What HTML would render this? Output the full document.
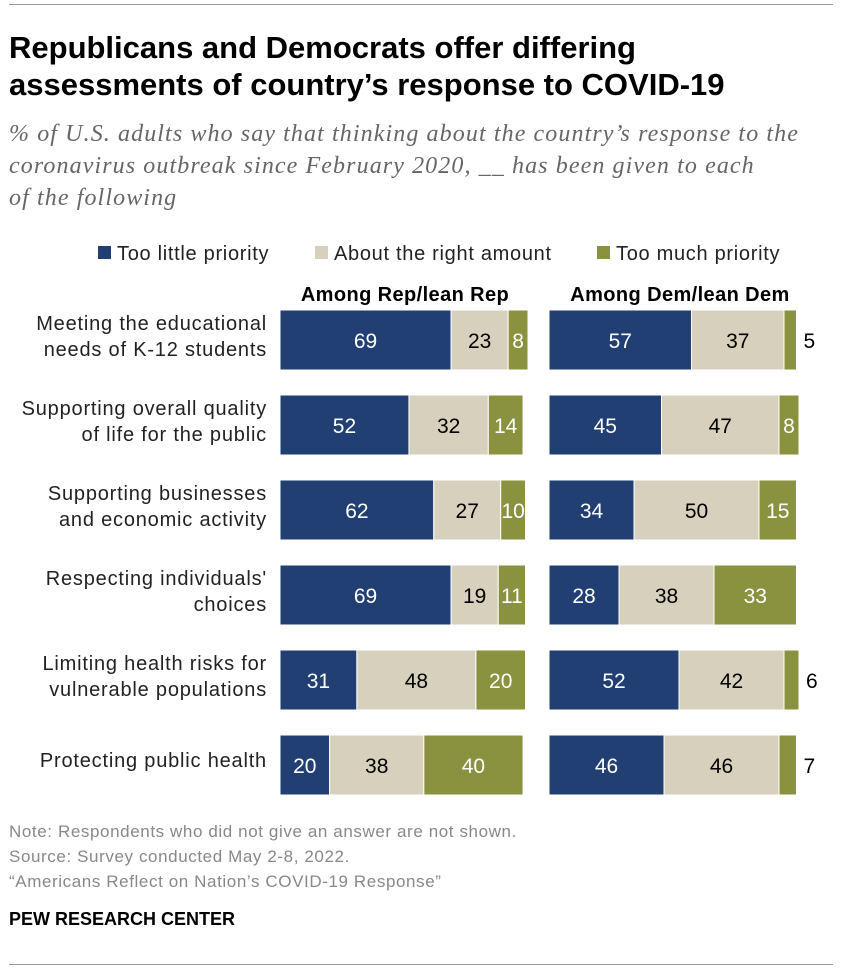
<!DOCTYPE html>
<html><head><meta charset="utf-8"><style>
body{margin:0;background:#fff;font-family:"Liberation Sans",sans-serif;}
#wrap{position:relative;width:842px;height:972px;overflow:hidden;}
.abs{position:absolute;}
</style></head><body>
<div id="wrap">
<div class="abs" style="left:9px;top:4px;width:824px;height:1px;background:#999"></div>
<div class="abs" style="left:9px;top:29px;font-size:31px;font-weight:bold;line-height:37px;color:#000">Republicans and Democrats offer differing<br>assessments of country’s response to COVID-19</div>
<div class="abs" style="left:9px;top:118px;font-family:'Liberation Serif',serif;font-style:italic;font-size:24px;letter-spacing:1.1px;line-height:32px;color:#666">% of U.S. adults who say that thinking about the country’s response to the<br>coronavirus outbreak since February 2020, __ has been given to each<br>of the following</div>
<svg class="abs" style="left:0;top:0" width="842" height="972" id="chart"></svg>
<div class="abs" style="left:9px;top:819px;font-size:17px;letter-spacing:0.6px;line-height:25px;color:#888">Note: Respondents who did not give an answer are not shown.<br>Source: Survey conducted May 2-8, 2022.<br>“Americans Reflect on Nation’s COVID-19 Response”</div>
<div class="abs" style="left:9px;top:909px;font-size:18px;font-weight:bold;color:#000">PEW RESEARCH CENTER</div>
<div class="abs" style="left:9px;top:964px;width:824px;height:1px;background:#999"></div>
</div>
<script>
const categories=[["Meeting the educational","needs of K-12 students"],["Supporting overall quality","of life for the public"],["Supporting businesses","and economic activity"],["Respecting individuals'","choices"],["Limiting health risks for","vulnerable populations"],["Protecting public health"]];
const repLittle=[69,52,62,69,31,20];
const repRight=[23,32,27,19,48,38];
const repMuch=[8,14,10,11,20,40];
const demLittle=[57,45,34,28,52,46];
const demRight=[37,47,50,38,42,46];
const demMuch=[5,8,15,33,6,7];
const seriesNames=["Too little priority","About the right amount","Too much priority"];
const colors=["#213f72","#d7d0bd","#8a913f"];
const textColors=["#fff","#000","#fff"];
const NS="http://www.w3.org/2000/svg";
const svg=document.getElementById('chart');
const rowY0=310, rowStep=85, barH=60;
const x=(panelX,sc,v)=>panelX+v*sc;
const y=i=>rowY0+i*rowStep;
function mk(tag,attrs,parent){const e=document.createElementNS(NS,tag);for(const k in attrs)e.setAttribute(k,attrs[k]);(parent||svg).appendChild(e);return e;}
const legX=[98,315,597];
seriesNames.forEach((n,i)=>{
 const g=mk('g',{});
 
 
 mk('rect',{x:legX[i],y:246,width:13,height:13,fill:colors[i]},g);
 const t=mk('text',{x:legX[i]+19,y:260,'font-size':20,'letter-spacing':0.7,fill:'#222','font-family':'Liberation Sans'},g);t.textContent=n;
});
[["Among Rep/lean Rep",405],["Among Dem/lean Dem",680]].forEach(h=>{
 const t=mk('text',{x:h[1],y:301,'font-size':20,'letter-spacing':0.4,'font-weight':'bold','text-anchor':'middle','font-family':'Liberation Sans'});
 
 
 t.textContent=h[0];
});
categories.forEach((c,i)=>{
 const cy=y(i)+barH/2;
 const t=mk('text',{x:267,'font-size':20,'letter-spacing':0.8,'text-anchor':'end',fill:'#222','font-family':'Liberation Sans'});
 
 
 const startY=c.length===1?cy-4:cy-16;
 t.setAttribute('y',startY+6);
 c.forEach((line,j)=>{const ts=mk('tspan',{x:267,dy:j===0?0:26},t);ts.textContent=line;});
});
function panel(px,sc,series,name){
 categories.forEach((c,i)=>{
  let acc=0;
  series.forEach((arr,s)=>{
   const v=arr[i];
   const r=mk('rect',{x:x(px,sc,acc),y:y(i),width:v*sc,height:barH,fill:colors[s],stroke:'#fff','stroke-width':1});
   
   
   let tx=x(px,sc,acc+v/2),anchor='middle',fill=textColors[s];
   if(v<8){tx=x(px,sc,acc+v)+7;anchor='start';fill='#000';}
   const t=mk('text',{x:tx,y:y(i)+barH/2+8,'font-size':21,'text-anchor':anchor,fill:fill,'font-family':'Liberation Sans'});
   
   
   t.textContent=v;
   acc+=v;
  });
 });
}
panel(280,2.48,[repLittle,repRight,repMuch],'rep');
panel(549,2.5,[demLittle,demRight,demMuch],'dem');
</script>
</body></html>
